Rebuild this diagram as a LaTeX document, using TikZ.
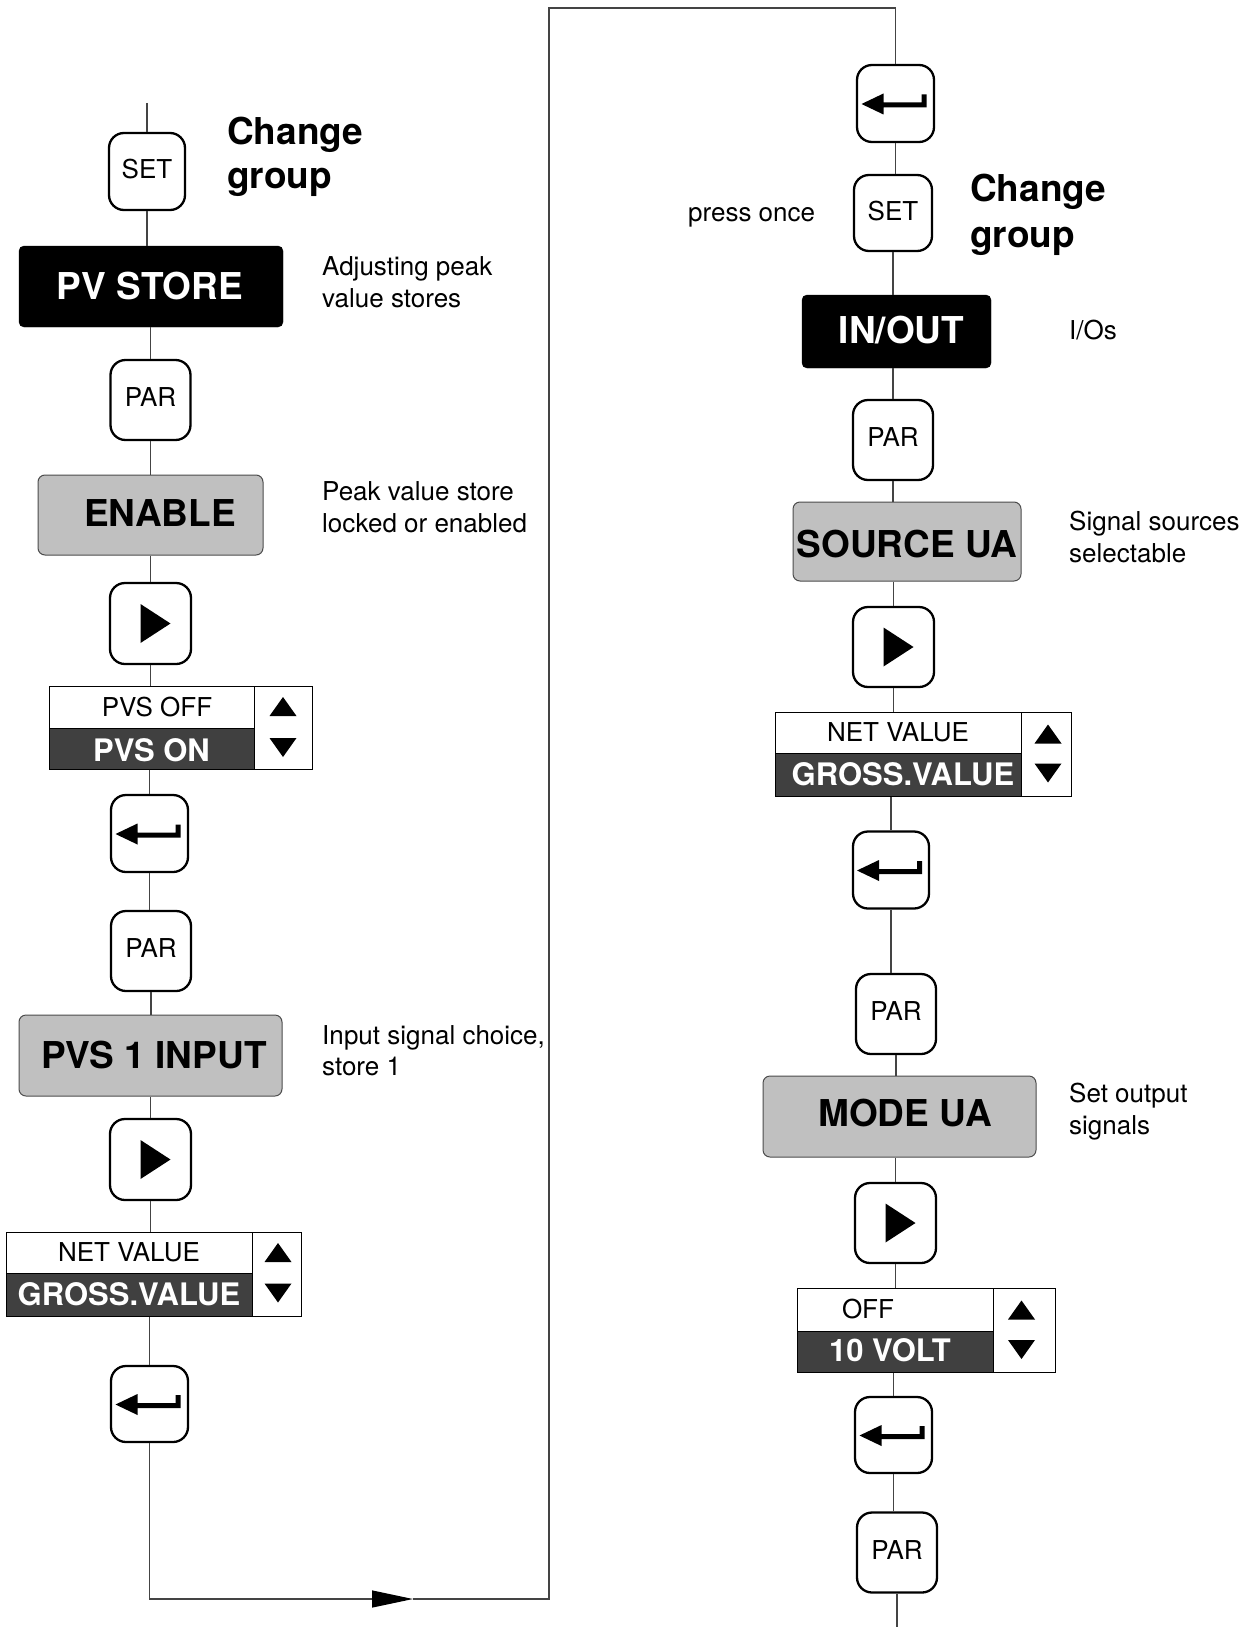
\documentclass[tikz,border=0pt]{standalone}
\usepackage{fontspec}
\setmainfont{TeX Gyre Heros}
\usetikzlibrary{arrows.meta}
\definecolor{boxgray}{HTML}{C0C0C0}
\definecolor{selgray}{HTML}{404040}
\definecolor{linegray}{HTML}{444444}
\newcommand\fsz[2]{\fontsize{#1pt}{#2pt}\selectfont}
\tikzset{
 key/.style={draw, line width=2.3pt, rounded corners=15pt, minimum width=78pt, minimum height=78pt, inner sep=0pt, text depth=5pt, font=\fsz{26}{30}},
 bigkey/.style={key, minimum width=80pt, minimum height=80pt},
 blackbox/.style={fill=black, draw=black, rounded corners=5pt, text=white, inner sep=0pt, font=\bfseries\fsz{37}{44}},
 graybox/.style={fill=boxgray, draw=black!70, line width=1pt, rounded corners=7pt, inner sep=0pt, font=\bfseries\fsz{37}{44}},
 selcell/.style={draw=black, line width=1pt, inner sep=0pt, font=\fsz{26}{30}},
 selon/.style={selcell, fill=selgray, text=white, font=\bfseries\fsz{31}{36}},
 conn/.style={draw=linegray, line width=1.3pt},
 note/.style={anchor=base west, inner sep=0pt, font=\fsz{26}{32}},
 head/.style={anchor=base west, inner sep=0pt, font=\bfseries\fsz{37}{44}},
}
\newcommand\entersym[1]{\fill[shift={(#1.center)}] (-34,0.5) -- (-12,-10) -- (-12,-1) -- (26,-1) -- (26,-9) -- (31,-9) -- (31,4) -- (-12,4) -- (-12,11) -- cycle;}
\newcommand\playsym[1]{\fill[shift={(#1.center)}] (-10,-19.5) -- (20,0) -- (-10,19.5) -- cycle;}
\newcommand\updown[3]{\fill[shift={(#1,#2)}] (-13.5,9.5) -- (13.5,9.5) -- (0,-9.5) -- cycle; \fill[shift={(#1,#3)}] (-13.5,-9.5) -- (13.5,-9.5) -- (0,9.5) -- cycle;}
\begin{document}
\begin{tikzpicture}[x=1pt,y=-1pt]
\path[use as bounding box, fill=white] (0,0) rectangle (1258,1627);

% ---------- left column ----------
\coordinate (ltop) at (147,103);
\node[key, minimum width=76pt, minimum height=77pt] (set1) at (147,171.5) {SET};
\node[blackbox, minimum width=264pt, minimum height=81pt] (pvstore) at (151,286.5) {PV STORE\hspace*{2pt}};
\node[bigkey] (par1) at (150.5,400) {PAR};
\node[graybox, minimum width=225pt, minimum height=80pt, text depth=4pt] (enable) at (150.5,515) {\hspace*{19pt}ENABLE};
\node[bigkey, minimum width=81pt, minimum height=81pt] (play1) at (150.5,623.5) {};
\node[selcell, minimum width=205pt, minimum height=42pt] (s1top) at (151.5,707) {\hspace*{11pt}PVS OFF};
\node[selon, minimum width=205pt, minimum height=41pt, text height=26pt] (s1bot) at (151.5,748.5) {PVS ON};
\node[selcell, minimum width=58pt, minimum height=83pt] (s1arr) at (283,727.5) {};
\node[key, minimum width=77pt, minimum height=77pt] (enter1) at (149.5,833.5) {};
\node[bigkey] (par2) at (151,951) {PAR};
\node[graybox, minimum width=263pt, minimum height=81pt] (pvs1) at (150.5,1055.5) {\hspace*{7pt}PVS 1 INPUT};
\node[bigkey, minimum width=81pt, minimum height=81pt] (play2) at (150.5,1159.5) {};
\node[selcell, minimum width=246pt, minimum height=41pt] (s2top) at (129,1252.5) {NET VALUE};
\node[selon, minimum width=246pt, minimum height=43pt] (s2bot) at (129,1294.5) {GROSS.VALUE};
\node[selcell, minimum width=49pt, minimum height=84pt] (s2arr) at (276.5,1274) {};
\node[key, minimum width=77pt, minimum height=76pt] (enter2) at (149.5,1404) {};

\coordinate (atip) at (413,1599);
\coordinate (cbr) at (549,1599);
\coordinate (ctr) at (549,8);

% ---------- right column ----------
\node[key, minimum width=77pt, minimum height=77pt] (enter3) at (895.5,103.5) {};
\node[key, minimum width=78pt, minimum height=76pt] (set2) at (893,213) {SET};
\node[blackbox, minimum width=189pt, minimum height=73pt, text depth=3pt] (inout) at (896.5,331.5) {\hspace*{10pt}IN/OUT};
\node[bigkey] (par3) at (893,440) {PAR};
\node[graybox, minimum width=228pt, minimum height=79pt, text height=32pt] (source) at (907,541.5) {SOURCE UA};
\node[bigkey, minimum width=81pt] (play3) at (893.5,647) {};
\node[selcell, minimum width=246pt, minimum height=41pt] (s3top) at (898,732.5) {NET VALUE};
\node[selon, minimum width=246pt, minimum height=43pt] (s3bot) at (898,774.5) {\hspace*{10pt}GROSS.VALUE};
\node[selcell, minimum width=50pt, minimum height=84pt] (s3arr) at (1046,754) {};
\node[key, minimum width=76pt, minimum height=77pt] (enter4) at (891,870) {};
\node[bigkey] (par4) at (896,1014) {PAR};
\node[graybox, minimum width=273pt, minimum height=81pt, text depth=8pt] (mode) at (899.5,1116.5) {\hspace*{11pt}MODE UA};
\node[bigkey, minimum width=81pt] (play4) at (895.5,1223) {};
\node[selcell, minimum width=196pt, minimum height=43pt] (s4top) at (895,1309.5) {OFF\hspace*{54pt}};
\node[selon, minimum width=196pt, minimum height=41pt, text depth=4pt] (s4bot) at (895,1351.5) {10 VOLT\hspace*{10pt}};
\node[selcell, minimum width=62pt, minimum height=84pt] (s4arr) at (1024,1330) {};
\node[key, minimum width=77pt, minimum height=76pt] (enter5) at (893.5,1435) {};
\node[bigkey] (par5) at (897,1552.5) {PAR};
\coordinate (rbot) at (897,1627);

% ---------- symbols ----------
\playsym{play1} \playsym{play2} \playsym{play3} \playsym{play4}
\entersym{enter1} \entersym{enter2} \entersym{enter3} \entersym{enter4} \entersym{enter5}
\updown{283}{706.5}{747.5}
\updown{278}{1252.5}{1293}
\updown{1048}{734}{773}
\updown{1021.5}{1310}{1349.5}

% ---------- connectors ----------
\draw[conn] (ltop) -- (set1.north);
\draw[conn] (set1.south) -- (set1.south |- pvstore.north);
\draw[conn] (par1.north |- pvstore.south) -- (par1.north);
\draw[conn] (par1.south) -- (par1.south |- enable.north);
\draw[conn] (play1.north |- enable.south) -- (play1.north);
\draw[conn] (play1.south) -- (play1.south |- s1top.north);
\draw[conn] (enter1.north |- s1bot.south) -- (enter1.north);
\draw[conn] (enter1.south) -- (enter1.south |- par2.north);
\draw[conn] (par2.south) -- (par2.south |- pvs1.north);
\draw[conn] (play2.north |- pvs1.south) -- (play2.north);
\draw[conn] (play2.south) -- (play2.south |- s2top.north);
\draw[conn] (enter2.north |- s2bot.south) -- (enter2.north);
\draw[conn, -{Triangle[length=41pt,width=17pt,color=black]}] (enter2.south) |- (atip);
\draw[conn] (atip) -- (cbr) -- (ctr) -| (enter3.north);

\draw[conn] (enter3.south) -- (enter3.south |- set2.north);
\draw[conn] (set2.south) -- (set2.south |- inout.north);
\draw[conn] (par3.north |- inout.south) -- (par3.north);
\draw[conn] (par3.south) -- (par3.south |- source.north);
\draw[conn] (play3.north |- source.south) -- (play3.north);
\draw[conn] (play3.south) -- (play3.south |- s3top.north);
\draw[conn] (enter4.north |- s3bot.south) -- (enter4.north);
\draw[conn] (enter4.south) -- (enter4.south |- par4.north);
\draw[conn] (par4.south) -- (par4.south |- mode.north);
\draw[conn] (play4.north |- mode.south) -- (play4.north);
\draw[conn] (play4.south) -- (play4.south |- s4top.north);
\draw[conn] (enter5.north |- s4bot.south) -- (enter5.north);
\draw[conn] (enter5.south) -- (enter5.south |- par5.north);
\draw[conn] (par5.south) -- (rbot);

% ---------- texts ----------
\node[head] (h1a) at (227,144) {Change};
\node[head] (h1b) at (227,188) {group};
\node[head] (h2a) at (970,201) {Change};
\node[head] (h2b) at (970,247) {group};

\node[note] (n1a) at (322,275.5) {Adjusting peak};
\node[note] (n1b) at (322,307.5) {value stores};
\node[note] (n2a) at (322,500.5) {Peak value store};
\node[note] (n2b) at (322,532.5) {locked or enabled};
\node[note] (n3a) at (322,1044.5) {Input signal choice,};
\node[note] (n3b) at (322,1075.5) {store 1};
\node[note] (n4) at (688,221) {press once};
\node[note] (n5) at (1069,339.5) {I/Os};
\node[note] (n6a) at (1069,530.5) {Signal sources};
\node[note] (n6b) at (1069,562.5) {selectable};
\node[note] (n7a) at (1069,1102.5) {Set output};
\node[note] (n7b) at (1069,1134.5) {signals};
\end{tikzpicture}
\end{document}
